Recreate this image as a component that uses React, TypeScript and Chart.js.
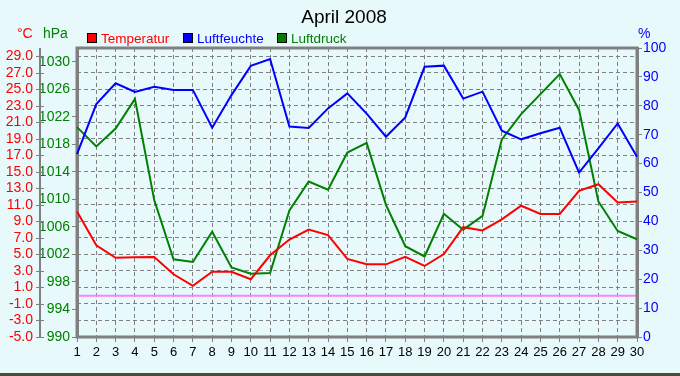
import React, { useEffect, useRef } from 'react';
import { Chart, registerables } from 'chart.js';

Chart.register(...registerables);

const days = ['1','2','3','4','5','6','7','8','9','10','11','12','13','14','15','16','17','18','19','20','21','22','23','24','25','26','27','28','29','30'];
const temperatur = [10.2, 6.1, 4.6, 4.65, 4.7, 2.6, 1.2, 2.9, 2.9, 2.0, 4.9, 6.8, 8.0, 7.35, 4.45, 3.8, 3.8, 4.7, 3.6, 5.05, 8.3, 7.9, 9.25, 10.9, 9.9, 9.9, 12.7, 13.5, 11.3, 11.4];
const luftfeuchte = [63.3, 80.6, 87.8, 84.8, 86.6, 85.5, 85.5, 72.4, 83.7, 93.8, 96.2, 72.8, 72.3, 79.1, 84.3, 77.3, 69.3, 76.0, 93.5, 93.9, 82.5, 84.9, 71.4, 68.4, 70.5, 72.4, 56.9, 65.3, 73.9, 62.4];
const luftdruck = [1020.5, 1017.7, 1020.3, 1024.6, 1009.9, 1001.3, 1000.9, 1005.3, 1000.1, 999.2, 999.3, 1008.4, 1012.6, 1011.4, 1016.8, 1018.2, 1009.2, 1003.2, 1001.7, 1007.9, 1005.6, 1007.6, 1018.7, 1022.4, 1025.3, 1028.2, 1023.0, 1009.7, 1005.4, 1004.2];
const tempTicks = [-5, -3, -1, 1, 3, 5, 7, 9, 11, 13, 15, 17, 19, 21, 23, 25, 27, 29];
const pressureTicks = [990, 994, 998, 1002, 1006, 1010, 1014, 1018, 1022, 1026, 1030];
const humidityTicks = [0, 10, 20, 30, 40, 50, 60, 70, 80, 90, 100];
const freezingLevel = 0;

const titleText = 'April 2008';
const seriesNames = ['Temperatur', 'Luftfeuchte', 'Luftdruck'];
const seriesColors = ['#FF0000', '#0000FF', '#008000'];
const unitLabels = ['°C', 'hPa', '%'];

const BG = '#E8F9FC';
const GRID = '#808080';
const NARROW = "'Liberation Sans Narrow', 'Liberation Sans', sans-serif";
const SANS = "'Liberation Sans', Arial, sans-serif";

const decor = {
  id: 'decor',
  beforeDraw(chart: any) {
    const { ctx, width, height } = chart;
    ctx.save();
    ctx.fillStyle = BG;
    ctx.fillRect(0, 0, width, height);
    ctx.fillStyle = '#4b4b3c';
    ctx.fillRect(0, 373, width, height - 373);
    ctx.restore();
  },
  beforeDatasetsDraw(chart: any) {
    const { ctx, chartArea } = chart;
    const { left, right, top, bottom } = chartArea;
    ctx.save();
    const yT = chart.scales.yT;
    const y = yT.getPixelForValue(freezingLevel);
    ctx.strokeStyle = '#FF80FF';
    ctx.lineWidth = 2;
    ctx.beginPath();
    ctx.moveTo(left, y);
    ctx.lineTo(right, y);
    ctx.stroke();
    // solid axis line of the outer temperature axis
    ctx.strokeStyle = GRID;
    ctx.lineWidth = 2;
    ctx.beginPath();
    ctx.moveTo(yT.right - 1, top);
    ctx.lineTo(yT.right - 1, bottom + 1);
    ctx.stroke();
    ctx.lineWidth = 1;
    yT.ticks.forEach((t: any) => {
      const py = Math.round(yT.getPixelForValue(t.value)) + 0.5;
      ctx.beginPath();
      ctx.moveTo(yT.right - 5, py);
      ctx.lineTo(yT.right + 3, py);
      ctx.stroke();
    });
    ctx.lineWidth = 3;
    ctx.strokeRect(left, top, right - left, bottom - top);
    ctx.restore();
  },
  afterDraw(chart: any) {
    const { ctx } = chart;
    ctx.save();
    ctx.textBaseline = 'alphabetic';
    ctx.fillStyle = '#000000';
    ctx.font = `19px ${SANS}`;
    ctx.textAlign = 'center';
    ctx.fillText(titleText, 344, 23);

    ctx.textAlign = 'left';
    ctx.font = `13.5px ${SANS}`;
    const boxX = [87, 183, 277];
    seriesNames.forEach((name, i) => {
      ctx.fillStyle = seriesColors[i];
      ctx.fillRect(boxX[i] + 0.5, 33.5, 9, 9);
      ctx.strokeStyle = '#000000';
      ctx.lineWidth = 1;
      ctx.strokeRect(boxX[i] + 0.5, 33.5, 9, 9);
      ctx.fillStyle = seriesColors[i];
      ctx.fillText(name, boxX[i] + 14, 43);
    });

    ctx.font = `14px ${SANS}`;
    ctx.fillStyle = '#FF0000';
    ctx.fillText(unitLabels[0], 17, 38);
    ctx.fillStyle = '#008000';
    ctx.fillText(unitLabels[1], 43, 38);
    ctx.fillStyle = '#0000FF';
    ctx.fillText(unitLabels[2], 638, 38);
    ctx.restore();
  },
};

export default function App() {
  const ref = useRef<HTMLCanvasElement | null>(null);
  useEffect(() => {
    document.body.style.margin = '0';
    document.body.style.background = BG;
    const canvas = ref.current;
    if (!canvas) return;
    const chart = new Chart(canvas, {
      type: 'line',
      data: {
        labels: days,
        datasets: [
          { label: seriesNames[0], data: temperatur, borderColor: seriesColors[0], backgroundColor: seriesColors[0], yAxisID: 'yT', borderWidth: 2, pointRadius: 0, tension: 0, fill: false },
          { label: seriesNames[1], data: luftfeuchte, borderColor: seriesColors[1], backgroundColor: seriesColors[1], yAxisID: 'yH', borderWidth: 2, pointRadius: 0, tension: 0, fill: false },
          { label: seriesNames[2], data: luftdruck, borderColor: seriesColors[2], backgroundColor: seriesColors[2], yAxisID: 'yP', borderWidth: 2, pointRadius: 0, tension: 0, fill: false },
        ],
      },
      options: {
        responsive: false,
        animation: false,
        devicePixelRatio: 1,
        layout: { padding: { top: 48, left: 0, right: 0, bottom: 0 } },
        plugins: {
          legend: { display: false },
          title: { display: false },
          tooltip: { enabled: false },
        },
        scales: {
          x: {
            type: 'category',
            offset: false,
            grid: { color: GRID, lineWidth: 1, drawTicks: true, tickLength: 5, tickColor: GRID, tickBorderDash: [] },
            border: { display: false, color: GRID, width: 3, dash: [4, 3] },
            ticks: { color: '#000000', font: { family: NARROW, size: 13 }, autoSkip: false, maxRotation: 0, padding: 3 },
            afterFit(scale: any) { scale.height = 39; },
          },
          yT: {
            type: 'linear',
            position: 'left',
            weight: 2,
            min: -5,
            max: 30,
            afterBuildTicks(scale: any) { scale.ticks = tempTicks.map((v) => ({ value: v })); },
            grid: { color: GRID, lineWidth: 1, drawOnChartArea: true, drawTicks: false, tickLength: 5, tickColor: GRID, tickBorderDash: [] },
            border: { display: false, color: GRID, width: 2, dash: [4, 3] },
            ticks: { color: '#FF0000', font: { family: NARROW, size: 14 }, autoSkip: false, padding: 8, callback: (v: any) => Number(v).toFixed(1) },
            afterFit(scale: any) { scale.width = 41; },
          },
          yP: {
            type: 'linear',
            position: 'left',
            weight: 1,
            min: 990,
            max: 1032,
            afterBuildTicks(scale: any) { scale.ticks = pressureTicks.map((v) => ({ value: v })); },
            grid: { drawOnChartArea: false, drawTicks: true, tickLength: 5, tickColor: GRID, color: GRID },
            border: { display: true, color: GRID, width: 3 },
            ticks: { color: '#008000', font: { family: NARROW, size: 14 }, autoSkip: false, padding: 2, callback: (v: any) => String(v) },
            afterFit(scale: any) { scale.width = 36; },
          },
          yH: {
            type: 'linear',
            position: 'right',
            min: 0,
            max: 100,
            afterBuildTicks(scale: any) { scale.ticks = humidityTicks.map((v) => ({ value: v })); },
            grid: { drawOnChartArea: false, drawTicks: true, tickLength: 5, tickColor: GRID, color: GRID },
            border: { display: true, color: GRID, width: 3 },
            ticks: { color: '#0000FF', font: { family: NARROW, size: 14 }, autoSkip: false, padding: 1, callback: (v: any) => String(v) },
            afterFit(scale: any) { scale.width = 43; },
          },
        },
      },
      plugins: [decor],
    } as any);
    return () => chart.destroy();
  }, []);
  return (
    <div style={{ width: 680, height: 376 }}>
      <canvas ref={ref} width={680} height={376} style={{ display: 'block', width: 680, height: 376 }} />
    </div>
  );
}
